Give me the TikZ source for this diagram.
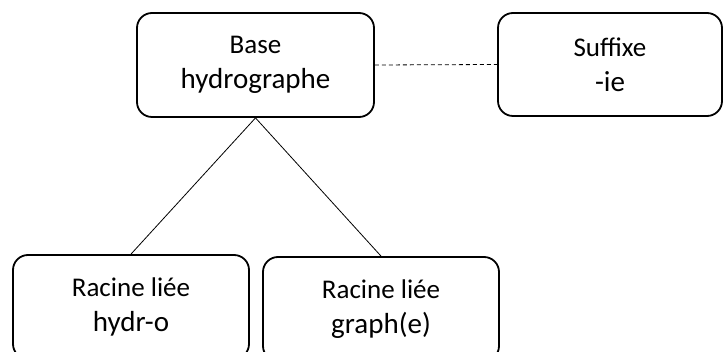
\documentclass[tikz,border=0pt]{standalone}
\usepackage{fontspec}
\setmainfont{Carlito}
\begin{document}
\begin{tikzpicture}[x=1pt,y=1pt,
  unit/.style={draw=black, line width=1.8pt, rounded corners=15pt, align=center,
    inner sep=0pt, font=\fontsize{29}{35}\selectfont},
  link/.style={draw=black, line width=0.8pt},
  dashlink/.style={draw=black, line width=0.8pt, dash pattern=on 4pt off 3pt}]
\useasboundingbox (0,0) rectangle (723,-352);
\clip (0,0) rectangle (723,-352);
% top row: base word and its suffix
\node[unit, minimum width=237pt, minimum height=104pt] (base) at (255.5,-65)
  {{\fontsize{27}{35}\selectfont Base}\\hydrographe};
\node[unit, minimum width=224pt, minimum height=103pt] (suf) at (610,-64.5)
  {{\fontsize{27}{35}\selectfont Suffixe}\\-ie};
% bottom row: bound roots
\node[unit, minimum width=236pt, minimum height=104pt] (hydr) at (131,-307)
  {{\fontsize{27}{35}\selectfont Racine liée}\\hydr-o};
\node[unit, minimum width=236pt, minimum height=104pt] (graph) at (381,-309)
  {{\fontsize{27}{35}\selectfont Racine liée}\\graph(e)};
% connectors
\draw[dashlink] (base.east) -- (suf.west);
\draw[link] (base.south) -- (hydr.north);
\draw[link] (base.south) -- (graph.north);
\end{tikzpicture}
\end{document}
